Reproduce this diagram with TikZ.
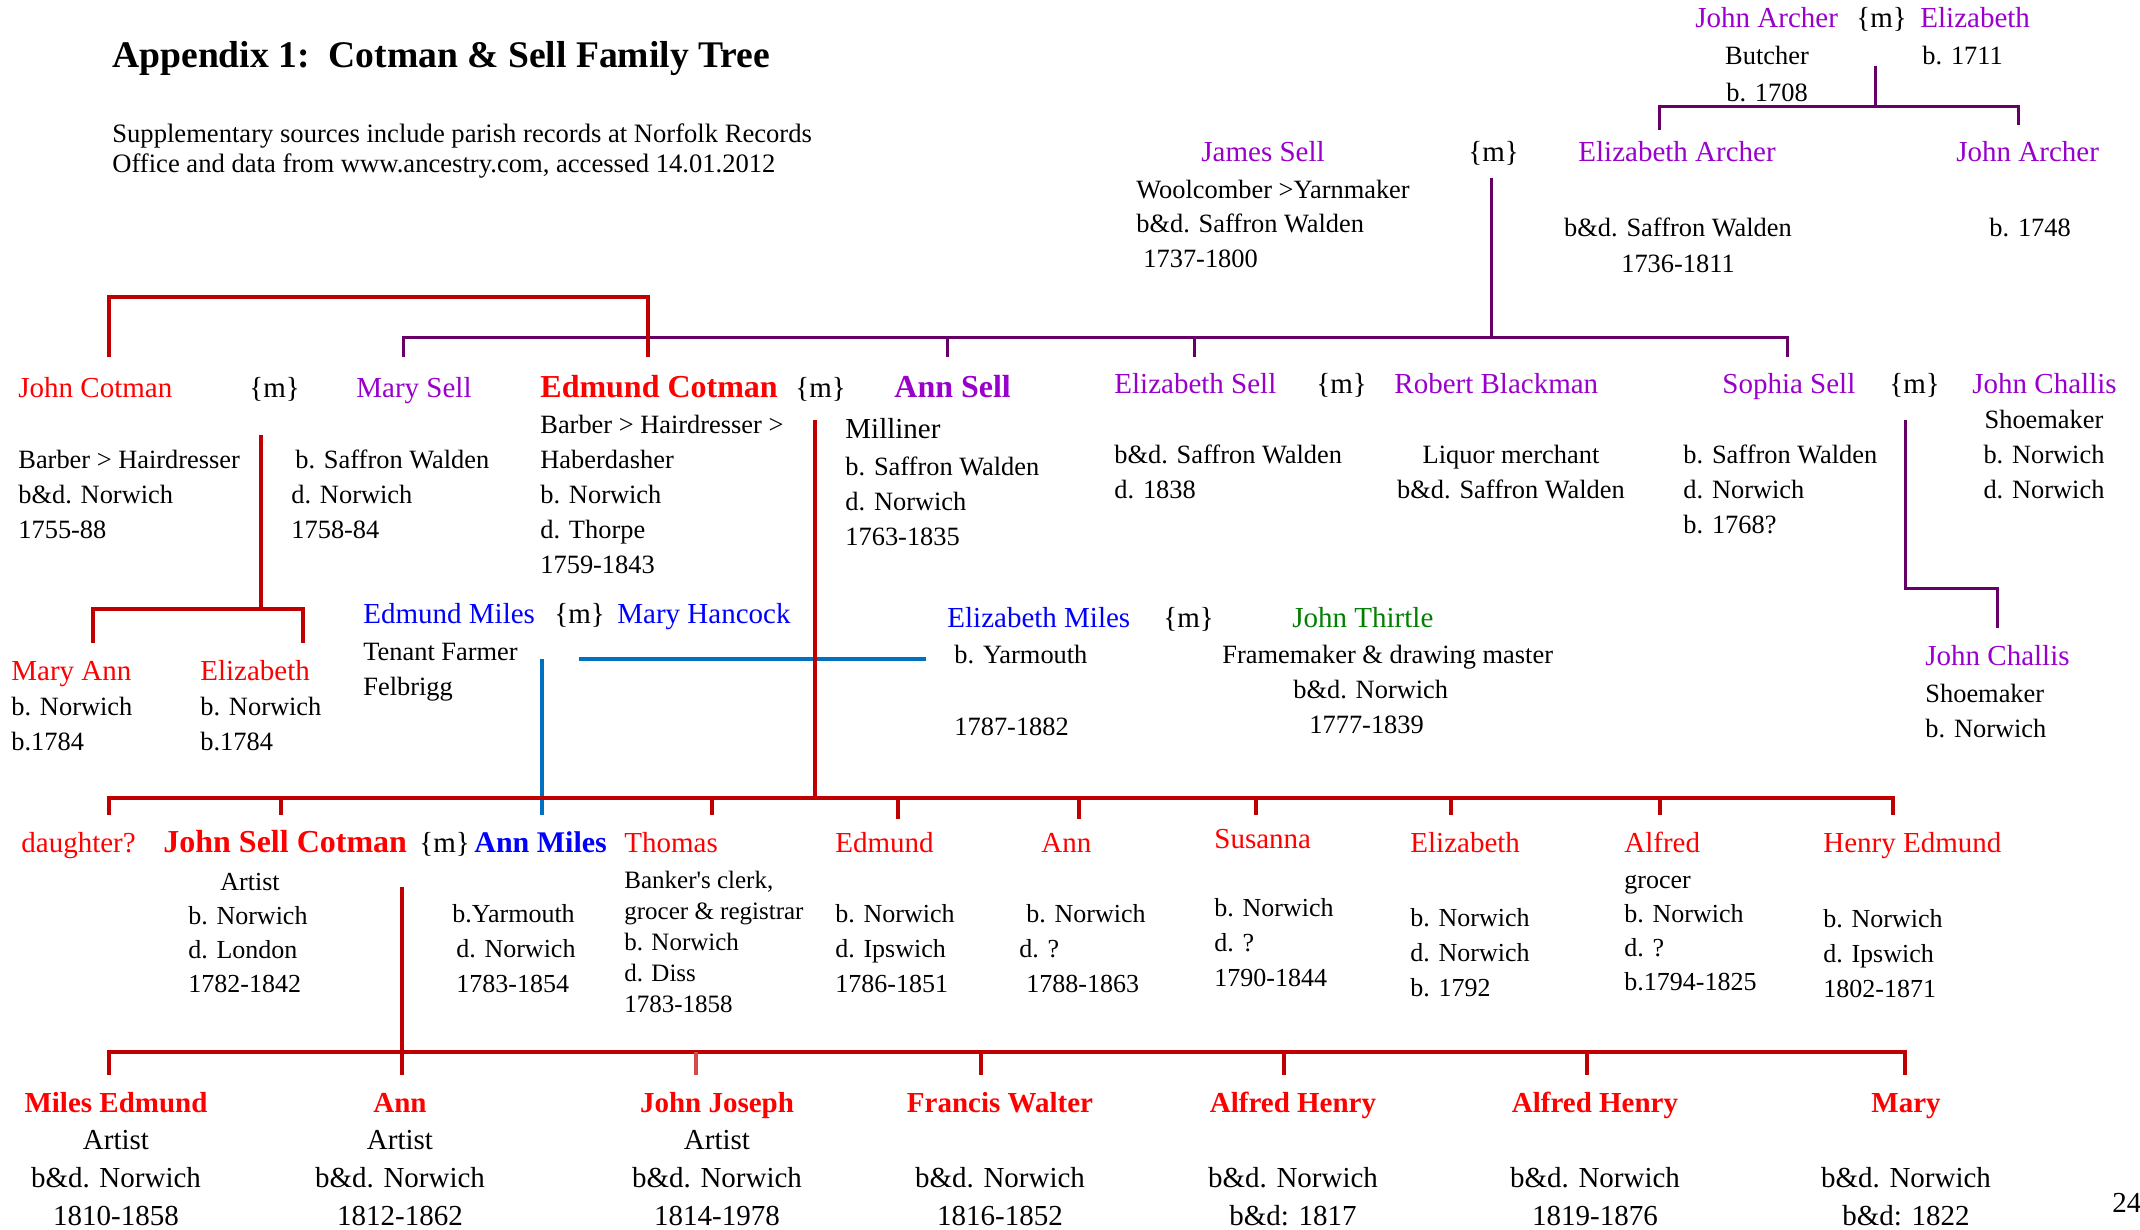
\documentclass[tikz,border=0pt]{standalone}
\usepackage{fontspec}
\setmainfont{Liberation Serif}
\usetikzlibrary{positioning}
\definecolor{cotman}{RGB}{255,0,0}
\definecolor{sell}{RGB}{153,0,204}
\definecolor{miles}{RGB}{0,0,255}
\definecolor{thirtle}{RGB}{0,128,0}
\definecolor{cotmanln}{RGB}{192,0,0}
\definecolor{sellln}{RGB}{102,0,102}
\definecolor{milesln}{RGB}{0,112,192}

\begin{document}
\begin{tikzpicture}[x=0.5pt, y=-0.5pt,
  every node/.style={inner sep=0pt, anchor=base west},
  person/.style={font=\fontsize{14.5}{18}\selectfont},
  bperson/.style={font=\fontsize{16}{19}\selectfont\bfseries},
  wed/.style={font=\fontsize{14.5}{18}\selectfont},
  info/.style={align=left, font=\fontsize{13.2}{17.5}\selectfont},
  cinfo/.style={info, align=center, anchor=base},
  child/.style={align=center, anchor=base, font=\fontsize{14.5}{18.8}\selectfont},
  redline/.style={draw=cotmanln, line width=1.8pt},
  sellline/.style={draw=sellln, line width=1.5pt},
  milesline/.style={draw=milesln, line width=1.7pt}]
\fill[white] (0,0) rectangle (2140,1230);
\useasboundingbox (0,0) rectangle (2140,1230);

\node(title)[font=\fontsize{18.8}{22}\selectfont\bfseries] at (112,68) {Appendix 1:\ \ Cotman \& Sell Family Tree};
\node(sources)[info,font=\fontsize{13.3}{15}\selectfont] at (112,173) {Supplementary sources include parish records at Norfolk Records\\Office and data from www.ancestry.com, accessed 14.01.2012};

\node(jarcherS)[person,text=sell] at (1695,28) {John Archer};
\node(mJA)[wed] at (1856,28) {\{m\}};
\node(elizA)[person,text=sell] at (1920,28) {Elizabeth};
\node(jarcherSi)[cinfo,font=\fontsize{13.2}{18.5}\selectfont] at (1767,102) {Butcher\\b. 1708};
\node(elizAi)[info] at (1922,65) {b. 1711};
\coordinate(archW) at (1875,66);
\coordinate(archBar) at (1659,107);
\coordinate(dEA) at (1659,130);
\coordinate(dJA) at (2018,125);
\draw[sellline] (archW) -- (archW |- archBar);
\draw[sellline] (dEA) -- (archBar) -- (archBar -| dJA) -- (dJA);

\node(jsell)[person,text=sell] at (1201,162) {James Sell};
\node(mJS)[wed] at (1468,162) {\{m\}};
\node(elizarch)[person,text=sell] at (1578,162) {Elizabeth Archer};
\node(jarch)[person,text=sell] at (1956,162) {John Archer};
\node(jselli)[info] at (1136,268) {Woolcomber >Yarnmaker\\b\&d. Saffron Walden\\\hspace*{3.5pt}1737-1800};
\node(elizarchi)[cinfo] at (1678,272) {b\&d. Saffron Walden\\1736-1811};
\node(jarchi)[info] at (1989,237) {b. 1748};
\coordinate(jsW) at (1491,178);
\coordinate(sellBar) at (403,337);
\coordinate(dMS) at (403,357);
\coordinate(dAS) at (947,357);
\coordinate(dES) at (1194,357);
\coordinate(dSS) at (1787,357);
\draw[sellline] (jsW) -- (jsW |- sellBar);
\draw[sellline] (dMS) -- (sellBar) -- (sellBar -| dSS) -- (dSS);
\foreach \c in {dAS,dES} \draw[sellline] (\c |- sellBar) -- (\c);

\coordinate(cotBar) at (109,297);
\coordinate(dJC) at (109,357);
\coordinate(dEC) at (648,357);
\draw[redline] (dJC) -- (cotBar) -- (cotBar -| dEC) -- (dEC);

\node(jcot)[person,text=cotman] at (18,397) {John Cotman};
\node(mJC)[wed] at (249,397) {\{m\}};
\node(msell)[person,text=sell] at (356,397) {Mary Sell};
\node(ecot)[bperson,text=cotman] at (540,397) {Edmund Cotman};
\node(mEC)[wed] at (795,397) {\{m\}};
\node(asell)[bperson,text=sell] at (894,397) {Ann Sell};
\node(esell)[person,text=sell] at (1114,393) {Elizabeth Sell};
\node(mES)[wed] at (1316,393) {\{m\}};
\node(rblack)[person,text=sell] at (1394,393) {Robert Blackman};
\node(ssell)[person,text=sell] at (1722,393) {Sophia Sell};
\node(mSS)[wed] at (1889,393) {\{m\}};
\node(jchal)[person,text=sell] at (1972,393) {John Challis};

\node(jcoti)[info] at (18,538) {Barber > Hairdresser\\b\&d. Norwich\\1755-88};
\node(mselli)[info] at (291,538) {\hspace*{2pt}b. Saffron Walden\\d. Norwich\\1758-84};
\node(ecoti)[info] at (540,573) {Barber > Hairdresser >\\Haberdasher\\b. Norwich\\d. Thorpe\\1759-1843};
\node(asellj)[person] at (845,438) {Milliner};
\node(aselli)[info] at (845,545) {b. Saffron Walden\\d. Norwich\\1763-1835};
\node(eselli)[info] at (1114,498) {b\&d. Saffron Walden\\d. 1838};
\node(rblacki)[cinfo] at (1511,498) {Liquor merchant\\b\&d. Saffron Walden};
\node(sselli)[info] at (1683,533) {b. Saffron Walden\\d. Norwich\\b. 1768?};
\node(jchali)[cinfo] at (2044,498) {Shoemaker\\b. Norwich\\d. Norwich};

\coordinate(jcM) at (261,435);
\coordinate(jcBar) at (93,609);
\coordinate(dMA) at (93,643);
\coordinate(dEl) at (303,643);
\draw[redline] (jcM) -- (jcM |- jcBar);
\draw[redline] (dMA) -- (jcBar) -- (jcBar -| dEl) -- (dEl);
\coordinate(ssM) at (1905,420);
\coordinate(scBar) at (1997,588);
\coordinate(dJCh) at (1997,628);
\draw[sellline] (ssM) -- (ssM |- scBar) -- (scBar) -- (dJCh);

\node(maryann)[person,text=cotman] at (11,680) {Mary Ann};
\node(eliz)[person,text=cotman] at (200,680) {Elizabeth};
\node(maryanni)[info] at (11,750) {b. Norwich\\b.1784};
\node(elizi)[info] at (200,750) {b. Norwich\\b.1784};
\node(emiles)[person,text=miles] at (363,623) {Edmund Miles};
\node(mEM)[wed] at (554,623) {\{m\}};
\node(mhan)[person,text=miles] at (617,623) {Mary Hancock};
\node(emilesi)[info] at (363,695) {Tenant Farmer\\Felbrigg};
\node(elmiles)[person,text=miles] at (947,627) {Elizabeth Miles};
\node(mElM)[wed] at (1163,627) {\{m\}};
\node(jthir)[person,text=thirtle] at (1292,627) {John Thirtle};
\node(elmilesi)[info,font=\fontsize{13.2}{18}\selectfont] at (954,735) {b. Yarmouth\\[18pt]1787-1882};
\node(jthiri)[info] at (1222,733) {Framemaker \& drawing master\\\hspace*{35.5pt}b\&d. Norwich\\\hspace*{43.5pt}1777-1839};
\node(jchal2)[person,text=sell] at (1925,665) {John Challis};
\node(jchal2i)[info] at (1925,737) {Shoemaker\\b. Norwich};

\coordinate(emM) at (542,659);
\coordinate(dAM) at (542,815);
\coordinate(mhL) at (579,659);
\coordinate(elmR) at (926,659);
\draw[milesline] (emM) -- (dAM);
\draw[milesline] (mhL) -- (elmR);

\coordinate(g3Bar) at (109,798);
\coordinate(ecM) at (815,420);
\coordinate(dDau) at (109,815);
\coordinate(dJSC) at (281,815);
\coordinate(dTh) at (712,815);
\coordinate(dEd) at (898,819);
\coordinate(dAn) at (1079,819);
\coordinate(dSu) at (1256,815);
\coordinate(dEz) at (1451,815);
\coordinate(dAl) at (1660,815);
\coordinate(dHE) at (1893,815);
\draw[redline] (ecM) -- (ecM |- g3Bar);
\draw[redline] (dDau) -- (g3Bar) -- (g3Bar -| dHE) -- (dHE);
\foreach \c in {dJSC,dTh,dEd,dAn,dSu,dEz,dAl} \draw[redline] (\c |- g3Bar) -- (\c);

\node(dau)[person,text=cotman] at (21,852) {daughter?};
\node(jsc)[bperson,text=cotman] at (163,852) {John Sell Cotman};
\node(mJSC)[wed] at (419,852) {\{m\}};
\node(amiles)[bperson,text=miles,font=\fontsize{15}{18}\selectfont\bfseries] at (474,852) {Ann Miles};
\node(thomas)[person,text=cotman] at (624,852) {Thomas};
\node(edmund)[person,text=cotman] at (835,852) {Edmund};
\node(ann)[person,text=cotman] at (1041,852) {Ann};
\node(susanna)[person,text=cotman] at (1214,848) {Susanna};
\node(elizabeth)[person,text=cotman] at (1410,852) {Elizabeth};
\node(alfred)[person,text=cotman] at (1624,852) {Alfred};
\node(henry)[person,text=cotman] at (1823,852) {Henry Edmund};

\node(jsci)[info,font=\fontsize{13}{17}\selectfont] at (188,992) {\hspace*{16pt}Artist\\b. Norwich\\d. London\\1782-1842};
\node(amilesi)[info,font=\fontsize{13}{17.3}\selectfont] at (452,992) {b.Yarmouth\\\hspace*{2pt}d. Norwich\\\hspace*{2pt}1783-1854};
\node(thomasi)[info,font=\fontsize{12.5}{15.5}\selectfont] at (624,1012) {Banker\textquotesingle s clerk,\\grocer \& registrar\\b. Norwich\\d. Diss\\1783-1858};
\node(edmundi)[info,font=\fontsize{13}{17.3}\selectfont] at (835,992) {b. Norwich\\d. Ipswich\\1786-1851};
\node(anni)[info,font=\fontsize{13}{17.3}\selectfont] at (1019,992) {\hspace*{3.5pt}b. Norwich\\d. ?\\\hspace*{3.5pt}1788-1863};
\node(susannai)[info,font=\fontsize{13}{17.3}\selectfont] at (1214,986) {b. Norwich\\d. ?\\1790-1844};
\node(elizabethi)[info,font=\fontsize{13}{17.3}\selectfont] at (1410,996) {b. Norwich\\d. Norwich\\b. 1792};
\node(alfredi)[info,font=\fontsize{13}{17}\selectfont] at (1624,990) {grocer\\b. Norwich\\d. ?\\b.1794-1825};
\node(henryi)[info,font=\fontsize{13}{17.3}\selectfont] at (1823,997) {b. Norwich\\d. Ipswich\\1802-1871};

\coordinate(jscM) at (402,887);
\coordinate(g4Bar) at (109,1052);
\coordinate(dME) at (109,1075);
\coordinate(dAnn) at (402,1075);
\coordinate(dJJ) at (696,1075);
\coordinate(dFW) at (981,1075);
\coordinate(dAH) at (1284,1075);
\coordinate(dAHb) at (1587,1075);
\coordinate(dMy) at (1905,1075);
\draw[redline] (jscM) -- (dAnn);
\draw[redline] (dME) -- (g4Bar) -- (g4Bar -| dMy) -- (dMy);
\foreach \c in {dFW,dAH,dAHb} \draw[redline] (\c |- g4Bar) -- (\c);
\draw[redline,draw=cotmanln!70] (dJJ |- g4Bar) -- (dJJ);

\node(milesed)[child] at (116,1225) {{\bfseries\color{cotman}Miles Edmund}\\Artist\\b\&d. Norwich\\1810-1858};
\node(annc)[child] at (400,1225) {{\bfseries\color{cotman}Ann}\\Artist\\b\&d. Norwich\\1812-1862};
\node(jjoseph)[child] at (717,1225) {{\bfseries\color{cotman}John Joseph}\\Artist\\b\&d. Norwich\\1814-1978};
\node(fwalter)[child] at (1000,1225) {{\bfseries\color{cotman}Francis Walter}\\[18.8pt]b\&d. Norwich\\1816-1852};
\node(ahenry)[child] at (1293,1225) {{\bfseries\color{cotman}Alfred Henry}\\[18.8pt]b\&d. Norwich\\b\&d: 1817};
\node(ahenryb)[child] at (1595,1225) {{\bfseries\color{cotman}Alfred Henry}\\[18.8pt]b\&d. Norwich\\1819-1876};
\node(mary)[child] at (1906,1225) {{\bfseries\color{cotman}Mary}\\[18.8pt]b\&d. Norwich\\b\&d: 1822};

\node(page)[person] at (2112,1212) {24};
\end{tikzpicture}
\end{document}
